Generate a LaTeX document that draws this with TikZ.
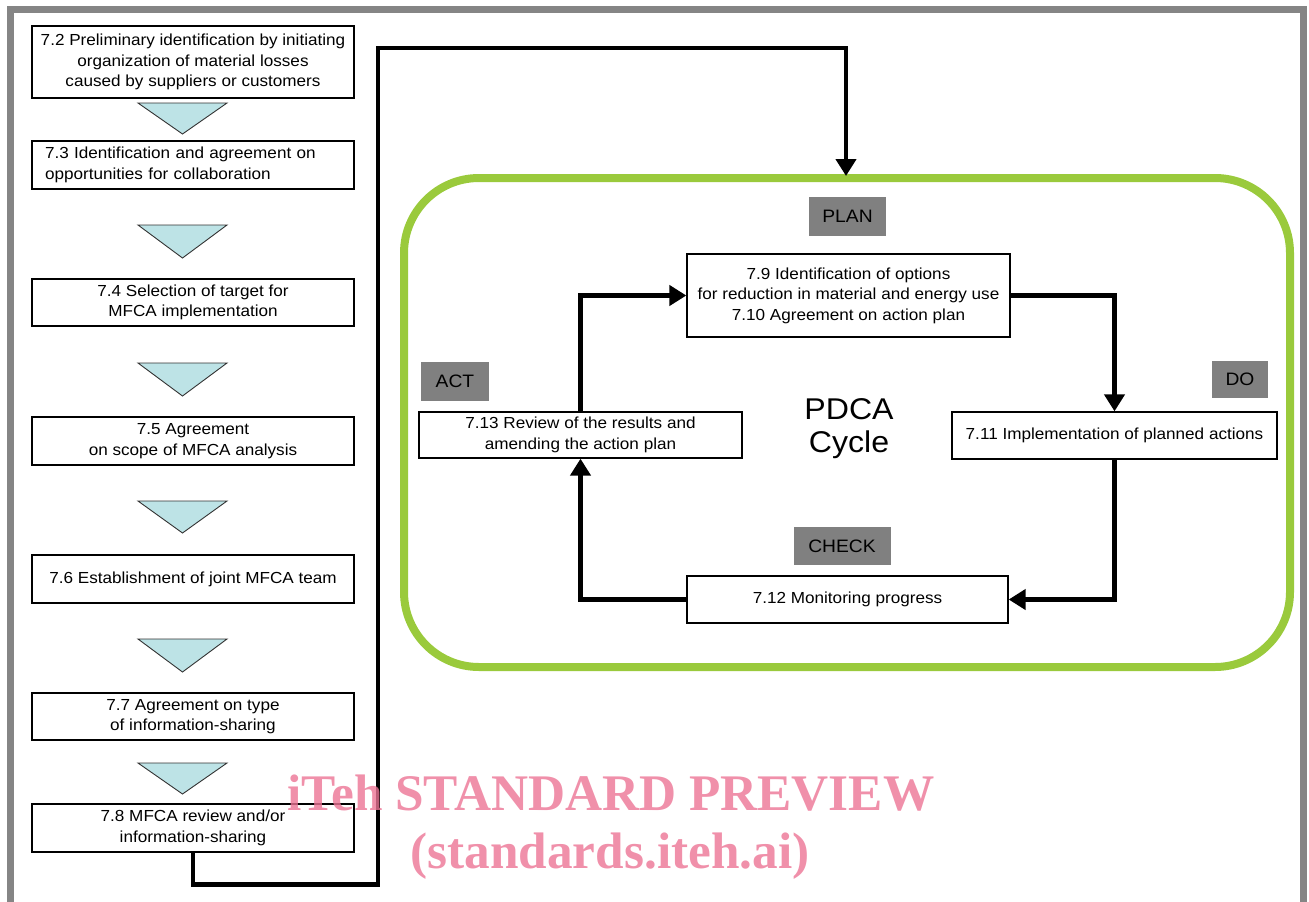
\documentclass[tikz,border=0pt]{standalone}
\usepackage{fontspec}
\setmainfont{Liberation Sans}[FakeStretch=1.07]
\newfontfamily\wmfont{Liberation Serif}
\usetikzlibrary{arrows.meta}
\definecolor{framegray}{RGB}{133,133,133}
\definecolor{labelgray}{RGB}{128,128,128}
\definecolor{trifill}{RGB}{189,227,230}
\definecolor{cyclegreen}{RGB}{154,202,60}
\definecolor{wmpink}{RGB}{236,116,149}
\tikzset{
  box/.style={draw=black, line width=1.3pt, fill=white, inner sep=0pt, align=center,
    font=\fontsize{16}{20.5}\selectfont},
  lbl/.style={fill=labelgray, inner sep=0pt, font=\fontsize{18}{20}\selectfont},
  tri/.style={draw=black!80, line width=0.9pt, fill=trifill, line join=miter},
  conn/.style={line width=4.5pt, draw=black},
  tip/.style={-{Triangle[width=20pt,length=17pt]}},
  wm/.style={text=wmpink, text opacity=0.8, inner sep=0pt,
    font=\wmfont\bfseries\fontsize{51.3}{58}\selectfont}
}
\begin{document}
\begin{tikzpicture}[x=1pt,y=-1pt]
\useasboundingbox (0,0) rectangle (1309,902);
\clip (0,0) rectangle (1309,902);
% outer frame
\draw[framegray, line width=7pt] (10.5,930) -- (10.5,9.5) -- (1303.5,9.5) -- (1303.5,930);
% left column boxes
\node[box, minimum width=322pt, minimum height=72pt] (b72) at (193,62)
  {7.2 Preliminary identification  by initiating\\organization  of material losses\\caused by suppliers  or customers};
\node[box, text width=296pt, inner xsep=13pt, minimum height=48pt, align=left] (b73) at (193,165)
  {7.3 Identification  and agreement on\\opportunities  for collaboration};
\node[box, minimum width=322pt, minimum height=47pt] (b74) at (193,302.5)
  {7.4 Selection of target for\\MFCA implementation};
\node[box, minimum width=322pt, minimum height=48pt] (b75) at (193,441)
  {7.5 Agreement\\on scope of MFCA analysis};
\node[box, minimum width=322pt, minimum height=48pt] (b76) at (193,579)
  {7.6 Establishment of joint MFCA team};
\node[box, minimum width=322pt, minimum height=47pt] (b77) at (193,716.5)
  {7.7 Agreement on type\\of information-sharing};
\node[box, minimum width=322pt, minimum height=48pt] (b78) at (193,828)
  {7.8 MFCA review and/or\\information-sharing};
% triangles
\foreach \t/\b in {103/134, 225/258, 363/396, 501/533, 639/672, 763/794}
  \draw[tri] (138,\t) -- (227,\t) -- (182.5,\b) -- cycle;
% green cycle frame
\draw[cyclegreen, line width=8pt, rounded corners=75pt] (404,178) rectangle (1290,667);
\coordinate (gtop) at (846,176);
% labels
\node[lbl, minimum width=77pt, minimum height=39pt] (plan) at (847.5,216.5) {PLAN};
\node[lbl, minimum width=56pt, minimum height=37pt] (do) at (1240,379.5) {DO};
\node[lbl, minimum width=97pt, minimum height=38pt] (check) at (842,546) {CHECK};
\node[lbl, minimum width=68pt, minimum height=39pt] (act) at (455,381.5) {ACT};
% cycle boxes
\node[box, minimum width=323pt, minimum height=83pt] (b79) at (848.5,295.5)
  {7.9 Identification  of options\\for reduction in material and energy use\\7.10 Agreement  on action plan};
\node[box, minimum width=325pt, minimum height=47pt] (b711) at (1114.5,435.5)
  {7.11 Implementation  of planned  actions};
\node[box, minimum width=321pt, minimum height=47pt] (b712) at (847.5,599.5)
  {7.12 Monitoring  progress};
\node[box, minimum width=323pt, minimum height=46pt] (b713) at (580.5,435)
  {7.13 Review of the results and\\amending the action plan};
\node[inner sep=0pt, align=center, font=\fontsize{30}{33}\selectfont] (pdca) at (849,429)
  {PDCA\\Cycle};
% connectors
\draw[conn, tip] (b78.south) -- ++(0,32) -| (378,48) -| (gtop);
\draw[conn, tip] (b713.north) |- (b79.west);
\draw[conn, tip] (b79.east) -| (b711.north);
\draw[conn, tip] (b711.south) |- (b712.east);
\draw[conn, tip] (b712.west) -| (b713.south);
% watermark
\node[wm, anchor=base] (wm1) at (611,810) {iTeh STANDARD PREVIEW};
\node[wm, anchor=base] (wm2) at (610,868) {(standards.iteh.ai)};
\end{tikzpicture}
\end{document}
